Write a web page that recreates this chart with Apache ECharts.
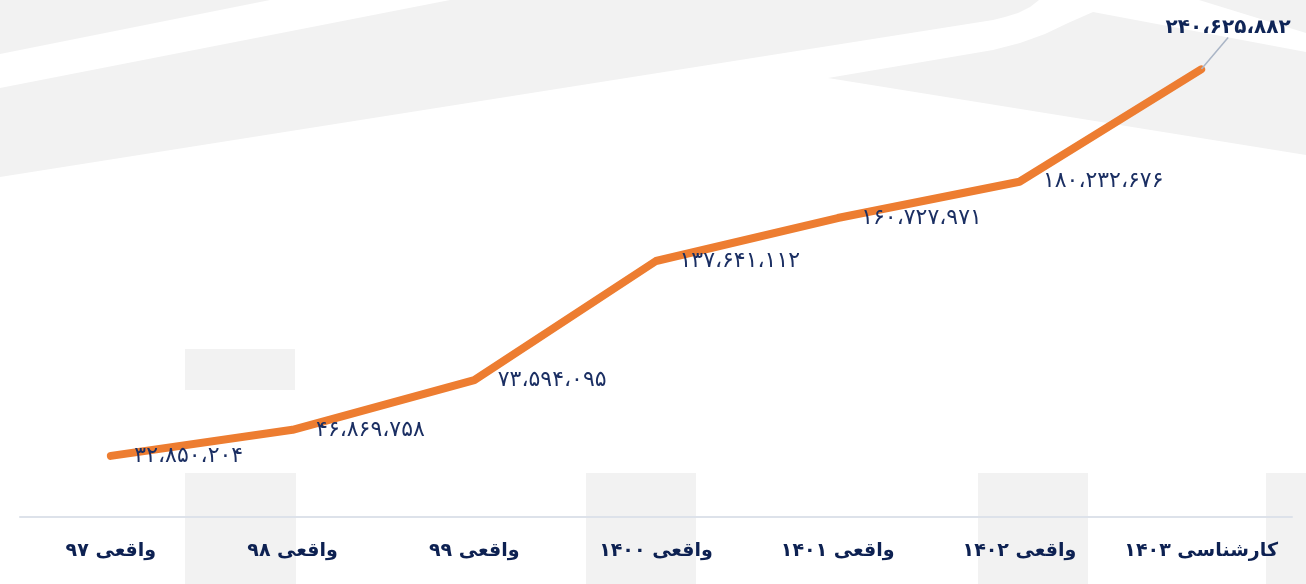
<!DOCTYPE html>
<html>
<head>
<meta charset="utf-8">
<script src="https://cdn.jsdelivr.net/npm/echarts@6/dist/echarts.min.js"></script>
<style>
html,body{margin:0;padding:0;background:#ffffff;}
#chart{width:1306px;height:584px;}
</style>
</head>
<body>
<div id="chart"></div>
<script>
// ---- data ----
var categories = ['واقعی ۹۷', 'واقعی ۹۸', 'واقعی ۹۹', 'واقعی ۱۴۰۰', 'واقعی ۱۴۰۱', 'واقعی ۱۴۰۲', 'کارشناسی ۱۴۰۳'];
var values = [32850204, 46869758, 73594095, 137641112, 160727971, 180232676, 240625882];
var yMin = 0;
var yMax = 250000000;

function toPersian(n) {
  var s = String(Math.round(n)).replace(/\B(?=(\d{3})+(?!\d))/g, '،');
  return s.replace(/[0-9]/g, function (d) { return '۰۱۲۳۴۵۶۷۸۹'[+d]; });
}

var FONT = '"DejaVu Sans", "Noto Sans", sans-serif';
var GRAY = '#f2f2f2';
var lastIdx = values.length - 1;

var seriesData = values.map(function (v, i) {
  if (i === lastIdx) {
    return {
      value: v,
      label: {
        fontWeight: 'bold',
        color: '#0f2557',
        fontSize: 20,
        padding: [0, 0, 31, 0]
      },
      labelLine: { show: true, lineStyle: { color: '#aab5c6', width: 1.5 } }
    };
  }
  return v;
});

var chart = echarts.init(document.getElementById('chart'), null, { renderer: 'canvas' });

var option = {
  backgroundColor: '#ffffff',
  animation: false,
  graphic: [
    { type: 'polygon', z: -10, silent: true, shape: { points: [[0,0],[270,0],[0,54]] }, style: { fill: GRAY } },
    { type: 'polygon', z: -10, silent: true, shape: { points: [[0,88],[450,0],[1039,0],[1030,7],[1018,13],[1005,17],[993,20],[0,177]] }, style: { fill: GRAY } },
    { type: 'polygon', z: -10, silent: true, shape: { points: [[828,78],[993,50],[1020,43],[1045,34],[1068,23],[1093,12],[1306,52],[1306,155]] }, style: { fill: GRAY } },
    { type: 'polygon', z: -10, silent: true, shape: { points: [[1199,0],[1306,0],[1306,33]] }, style: { fill: GRAY } },
    { type: 'rect', z: -10, silent: true, shape: { x: 185, y: 349, width: 110, height: 41 }, style: { fill: GRAY } },
    { type: 'rect', z: -10, silent: true, shape: { x: 185, y: 473, width: 111, height: 111 }, style: { fill: GRAY } },
    { type: 'rect', z: -10, silent: true, shape: { x: 586, y: 473, width: 110, height: 111 }, style: { fill: GRAY } },
    { type: 'rect', z: -10, silent: true, shape: { x: 978, y: 473, width: 110, height: 111 }, style: { fill: GRAY } },
    { type: 'rect', z: -10, silent: true, shape: { x: 1266, y: 473, width: 40, height: 111 }, style: { fill: GRAY } }
  ],
  grid: { left: 20, right: 14, top: 52, bottom: 67, containLabel: false },
  xAxis: {
    type: 'category',
    data: categories,
    boundaryGap: true,
    axisLine: { show: true, lineStyle: { color: '#dde2ea', width: 2 } },
    axisTick: { show: false },
    splitLine: { show: false },
    axisLabel: {
      margin: 25,
      fontFamily: FONT,
      fontSize: 19,
      fontWeight: 'bold',
      color: '#0d2152',
      interval: 0
    }
  },
  yAxis: {
    type: 'value',
    min: yMin,
    max: yMax,
    show: false,
    splitLine: { show: false }
  },
  series: [{
    type: 'line',
    data: seriesData,
    symbol: 'circle',
    symbolSize: 1,
    showSymbol: true,
    itemStyle: { color: '#ED7D31' },
    lineStyle: { color: '#ED7D31', width: 8, cap: 'round', join: 'round' },
    z: 5,
    label: {
      show: true,
      position: 'right',
      distance: 23,
      offset: [0, -2],
      fontFamily: FONT,
      fontSize: 22,
      color: '#1b2f63',
      formatter: function (p) { return toPersian(p.value); }
    },
    labelLayout: function (params) {
      if (params.dataIndex === lastIdx) {
        var cx = params.rect.x + params.rect.width / 2;
        var cy = params.rect.y + params.rect.height / 2;
        return {
          x: cx + 27,
          y: cy - 42,
          align: 'center',
          verticalAlign: 'middle'
        };
      }
      return {};
    }
  }]
};

chart.setOption(option);
</script>
</body>
</html>
